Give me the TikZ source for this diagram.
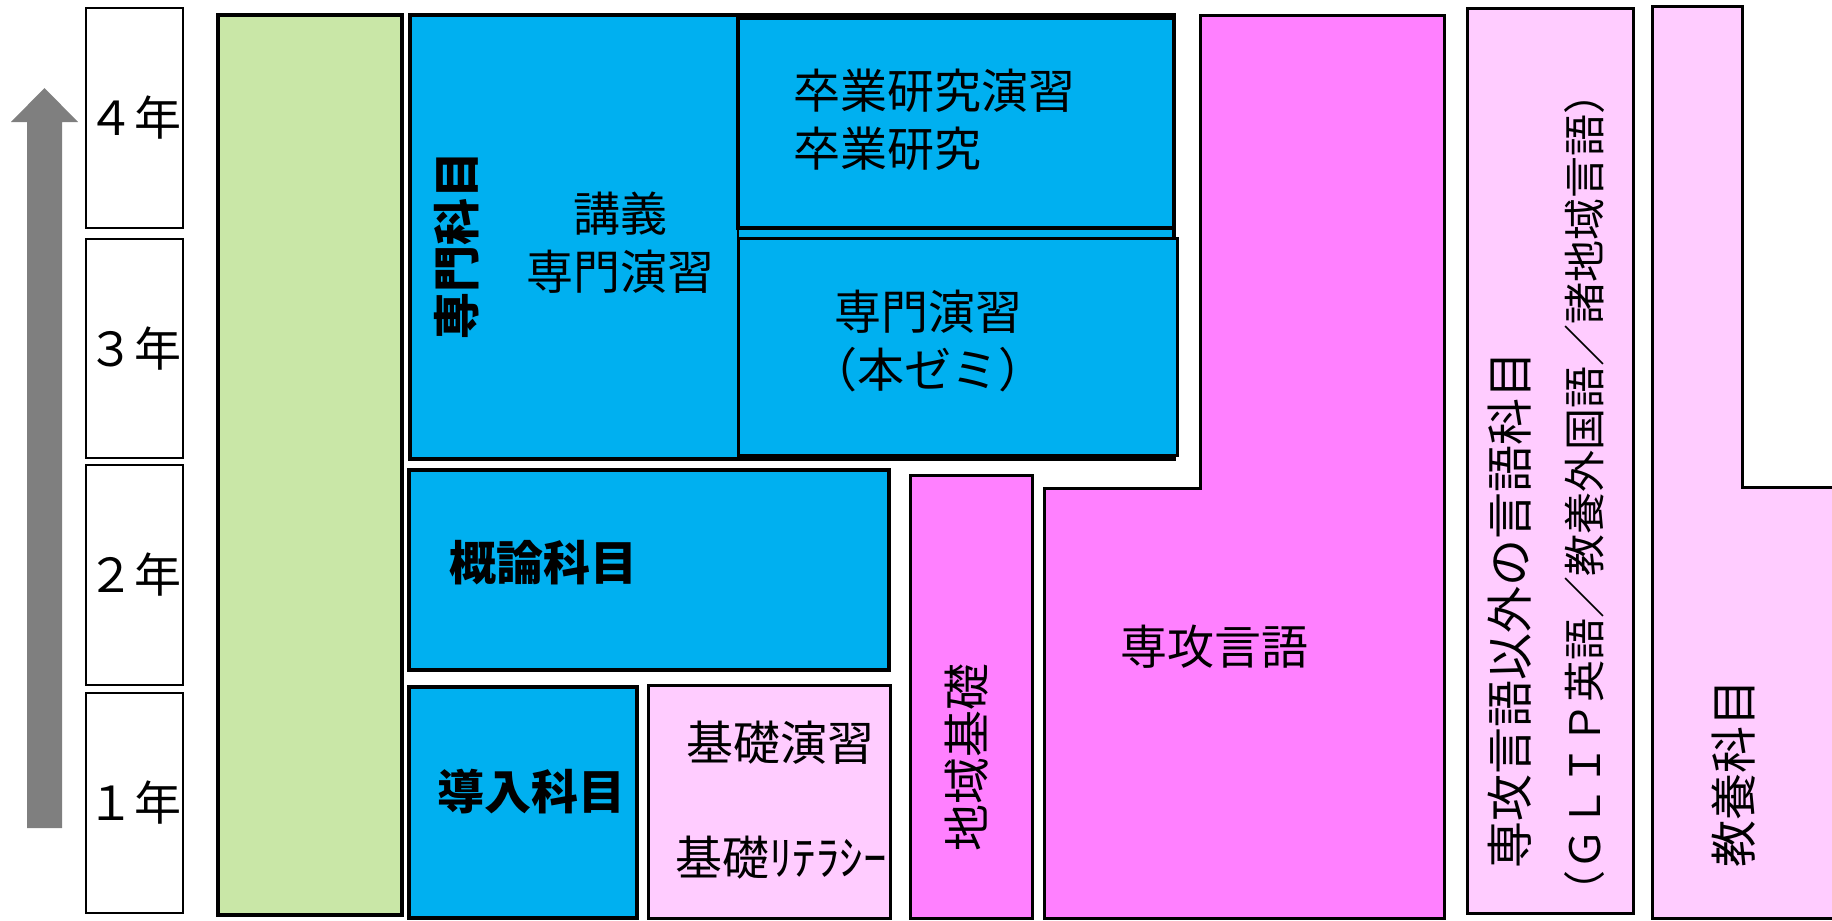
\documentclass[tikz,border=0pt]{standalone}
\usepackage{fontspec}
\setmainfont{Noto Sans CJK JP}
\definecolor{majorblue}{HTML}{00B0F0}
\definecolor{leafgreen}{HTML}{C9E7A7}
\definecolor{langpink}{HTML}{FF80FF}
\definecolor{softpink}{HTML}{FFCCFF}
\definecolor{arrowgray}{HTML}{7F7F7F}

\begin{document}
\begin{tikzpicture}[x=0.5pt, y=-0.5pt,
    lbl/.style={inner sep=0pt, font=\fontsize{23.5}{29}\selectfont},
    boldlbl/.style={inner sep=0pt, font=\fontsize{23.5}{29}\selectfont\bfseries}]

    \useasboundingbox (0,0) rectangle (1832,921);

    % Arrow going up through the years
    \fill[arrowgray] (27,828) -- (27,122) -- (11,122) -- (44.5,88) -- (78,122) -- (62,122) -- (62,828) -- cycle;

    % Year boxes
    \foreach \yr/\lab/\ya/\yb in {4/４/8/228, 3/３/239/458, 2/２/465/685, 1/１/693/913} {
        \draw[line width=1pt] (86,\ya) rectangle (183,\yb);
        \node[lbl] (year\yr) at (134.5,{(\ya+\yb)/2}) {\lab{}年};
    }

    % Green column
    \draw[fill=leafgreen, line width=2pt] (218,15) rectangle (402,915);

    % Major subjects
    \draw[fill=majorblue, line width=2pt] (410,15) rectangle (1174,459);
    \draw[line width=1pt] (738,15) -- (738,459);
    \draw[fill=majorblue, line width=2pt] (738,18) rectangle (1174,228);
    \draw[fill=majorblue, line width=1.5pt] (738,238) rectangle (1177,455);
    \node[boldlbl, rotate=90] (major) at (457,245) {専門科目};
    \node[lbl, align=center] (lecture) at (620,243) {講義\\専門演習};
    \node[lbl, align=left, anchor=west] (thesis) at (793,120) {卒業研究演習\\卒業研究};
    \node[lbl, align=center] (seminar) at (928,341) {専門演習\\（本ゼミ）};

    % Survey and intro subjects
    \draw[fill=majorblue, line width=2pt] (409,470) rectangle (889,670);
    \node[boldlbl] (survey) at (543,563) {概論科目};
    \draw[fill=majorblue, line width=2pt] (409,687) rectangle (637,918);
    \node[boldlbl] (intro) at (531,792) {導入科目};
    \draw[fill=softpink, line width=1.5pt] (648,685) rectangle (890,918);
    \node[lbl] (basic) at (780,743) {基礎演習};
    \node[lbl, anchor=west] (literacy) at (675,858) {基礎ﾘﾃﾗｼｰ};

    % Languages
    \draw[fill=langpink, line width=1.5pt] (910,475) rectangle (1032,918);
    \node[lbl, rotate=90] (region) at (967,757) {地域基礎};
    \draw[fill=langpink, line width=1.5pt] (1044,488) -- (1200,488) -- (1200,15) -- (1444,15) -- (1444,918) -- (1044,918) -- cycle;
    \node[lbl] (mainlang) at (1214,647) {専攻言語};
    \draw[fill=softpink, line width=1.5pt] (1467,8) rectangle (1633,913);
    \node[lbl, rotate=90] (otherlang) at (1510,610) {専攻言語以外の言語科目};
    \node[lbl, rotate=90, font=\fontsize{21}{25}\selectfont] (langlist) at (1585,492) {（ＧＬＩＰ英語／教養外国語／諸地域言語）};

    % Liberal arts
    \draw[fill=softpink, line width=1.5pt] (1652,918) -- (1652,6) -- (1742,6) -- (1742,487) -- (1840,487) -- (1840,918) -- cycle;
    \node[lbl, rotate=90] (liberal) at (1734,773) {教養科目};

\end{tikzpicture}
\end{document}
